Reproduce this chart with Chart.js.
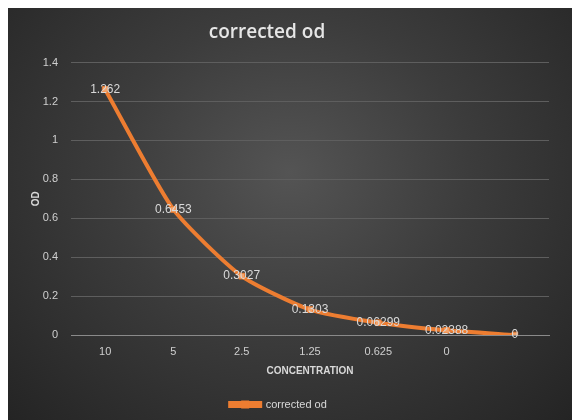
<!DOCTYPE html>
<html>
<head>
<meta charset="utf-8">
<script src="https://cdn.jsdelivr.net/npm/chart.js@4.4.1/dist/chart.umd.min.js"></script>
<style>
  html, body { margin: 0; padding: 0; background: #fff; }
  #wrap {
    position: absolute; left: 8px; top: 8px; width: 564px; height: 412px;
    background: radial-gradient(ellipse at 50% 40%, #545454 0%, #3c3c3c 45%, #242424 100%);
  }
</style>
</head>
<body>
<div id="wrap"><canvas id="chart" width="564" height="412"></canvas></div>
<script>
// ===== DATA =====
const categories = ['10', '5', '2.5', '1.25', '0.625', '0', ''];
const odValues = [1.262, 0.6453, 0.3027, 0.1303, 0.06299, 0.02388, 0];
const valueLabels = ['1.262', '0.6453', '0.3027', '0.1303', '0.06299', '0.02388', '0'];
const yTicks = [0, 0.2, 0.4, 0.6, 0.8, 1, 1.2, 1.4];
const chartTitle = 'corrected od';

const FONT = "'Liberation Sans', Arial, sans-serif";
const ORANGE = '#ed7d31';

// title sits a bit left of centre in the original, so draw it by hand
const titleText = {
    id: 'titleText',
    afterDraw(chart) {
        const ctx = chart.ctx;
        ctx.save();
        ctx.font = "600 19px 'Open Sans', sans-serif";
        ctx.fillStyle = '#e6e6e6';
        ctx.textAlign = 'center';
        ctx.textBaseline = 'middle';
        ctx.fillText(chartTitle, 259, 25);
        ctx.restore();
    }
};

// labels drawn at the point centre, like Excel
const pointLabels = {
    id: 'pointLabels',
    afterDatasetsDraw(chart) {
        const ctx = chart.ctx;
        const meta = chart.getDatasetMeta(0);
        ctx.save();
        ctx.font = '12px ' + FONT;
        ctx.fillStyle = '#d9d9d9';
        ctx.textAlign = 'center';
        ctx.textBaseline = 'middle';
        meta.data.forEach((pt, i) => {
            ctx.fillText(valueLabels[i], pt.x, pt.y);
        });
        ctx.restore();
    }
};

// marker square on top of the legend line
const legendMarker = {
    id: 'legendMarker',
    afterDraw(chart) {
        const boxes = chart.legend && chart.legend.legendHitBoxes;
        if (!boxes || !boxes.length) return;
        const b = boxes[0];
        const cx = b.left + 15, cy = b.top + b.height / 2;
        const ctx = chart.ctx;
        ctx.save();
        ctx.fillStyle = ORANGE;
        ctx.fillRect(cx - 4, cy - 4, 8, 8);
        ctx.restore();
    }
};

new Chart(document.getElementById('chart'), {
    type: 'line',
    data: {
        labels: categories,
        datasets: [{
            label: 'corrected od',
            data: odValues,
            borderColor: ORANGE,
            backgroundColor: ORANGE,
            borderWidth: 4,
            tension: 0.2,
            pointStyle: 'rect',
            pointRadius: 4,
            pointBackgroundColor: '#f4a46c',
            pointBorderColor: ORANGE,
            pointBorderWidth: 1
        }]
    },
    options: {
        responsive: false,
        animation: false,
        layout: { padding: { left: 0, right: 23, top: 0, bottom: 0 } },
        plugins: {
            title: {
                display: true,
                text: chartTitle,
                color: 'rgba(0,0,0,0)',
                font: { family: FONT, size: 18, weight: 'bold' },
                padding: { top: 14, bottom: 19 }
            },
            legend: {
                display: true,
                position: 'bottom',
                labels: {
                    color: '#d9d9d9',
                    font: { family: FONT, size: 11 },
                    boxWidth: 30,
                    boxHeight: 3,
                    padding: 3
                }
            },
            tooltip: { enabled: false }
        },
        scales: {
            x: {
                offset: true,
                grid: { display: false },
                border: { color: '#8a8a8a', width: 1 },
                ticks: { color: '#cfcfcf', font: { family: FONT, size: 11 }, padding: 2, maxRotation: 0 },
                title: {
                    display: true,
                    text: 'CONCENTRATION',
                    color: '#d9d9d9',
                    font: { family: FONT, size: 10, weight: 'bold' },
                    padding: { top: 4, bottom: 19 }
                },
                afterFit(scale) { scale.height = 61; }
            },
            y: {
                min: 0,
                max: 1.4,
                afterBuildTicks(scale) { scale.ticks = yTicks.map(v => ({ value: v })); },
                grid: { color: '#5e5e5e', lineWidth: 1, drawTicks: false },
                border: { display: false },
                ticks: {
                    color: '#cfcfcf',
                    font: { family: FONT, size: 11 },
                    padding: 13,
                    callback: v => String(Math.round(v * 10) / 10)
                },
                title: {
                    display: true,
                    text: 'OD',
                    color: '#d9d9d9',
                    font: { family: FONT, size: 10, weight: 'bold' },
                    padding: { top: 22, bottom: 6 }
                },
                afterFit(scale) { scale.width = 63; }
            }
        }
    },
    plugins: [pointLabels, legendMarker, titleText]
});
</script>
</body>
</html>
